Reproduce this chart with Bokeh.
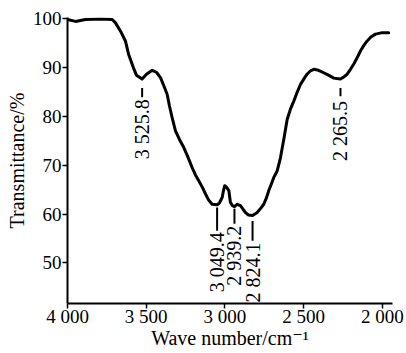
import numpy as np
from bokeh.plotting import figure
from bokeh.models import FixedTicker, Range1d
from bokeh.core.properties import value
from bokeh.embed import file_html
from bokeh.resources import INLINE

wavenumber = [4000, 3949, 3886, 3790, 3716, 3695, 3663, 3632, 3612, 3581,
              3562, 3526, 3498, 3462, 3435, 3409, 3390, 3367, 3352, 3335,
              3314, 3288, 3261, 3238, 3208, 3187, 3166, 3142, 3123, 3104,
              3081, 3049, 3034, 3017, 3009, 3001, 2990, 2975, 2965, 2952,
              2939, 2922, 2901, 2869, 2850, 2824, 2795, 2774, 2753, 2736,
              2721, 2704, 2689, 2668, 2647, 2625, 2604, 2583, 2562, 2541,
              2520, 2499, 2478, 2456, 2435, 2405, 2372, 2342, 2308, 2266,
              2246, 2223, 2202, 2181, 2159, 2138, 2117, 2096, 2072, 2043,
              2001, 1959]
transmittance = [99.8, 99.4, 99.8, 99.9, 99.8, 99.1, 97.4, 95.4, 92.7, 89.9,
                 88.4, 87.6, 88.6, 89.4, 89.0, 87.9, 86.4, 84.5, 82.1, 79.7,
                 77.0, 75.2, 73.6, 71.9, 69.5, 68.0, 66.8, 65.4, 64.1, 62.9,
                 62.0, 61.9, 62.3, 63.4, 64.8, 65.8, 65.5, 64.8, 62.4, 61.7,
                 61.5, 62.0, 61.7, 60.3, 59.8, 59.7, 60.3, 61.1, 62.0, 63.3,
                 64.8, 66.2, 67.5, 68.8, 71.5, 75.4, 79.4, 81.5, 83.1, 84.9,
                 86.5, 87.6, 88.6, 89.3, 89.6, 89.4, 88.9, 88.4, 87.8, 87.6,
                 88.0, 88.6, 89.6, 90.7, 92.0, 93.4, 94.5, 95.4, 96.2, 96.8,
                 97.1, 97.1]

peak_positions = [3525.8, 2265.5, 3049.4, 2939.2, 2824.1]
peak_labels = ["3 525.8", "2 265.5", "3 049.4", "2 939.2", "2 824.1"]
marker_top = [85.8, 85.8, 61.35, 61.1, 58.6]
marker_bottom = [83.9, 84.1, 56.6, 58.0, 54.55]
label_top = [83.5, 83.1, 56.25, 57.6, 54.2]

x_ticks = [4000, 3500, 3000, 2500, 2000]
x_tick_labels = ["4 000", "3 500", "3 000", "2 500", "2 000"]
y_ticks = [50, 60, 70, 80, 90, 100]
x_title = "Wave number/cm\u207b\u00b9"
y_title = "Transmittance/%"

FONT = "'Liberation Serif', 'DejaVu Serif', serif"

p = figure(width=406, height=353, x_range=Range1d(4000, 1935),
           y_range=Range1d(41.7, 100.2), output_backend="svg",
           toolbar_location=None, min_border_left=67, min_border_right=14,
           min_border_top=17, min_border_bottom=50)
p.outline_line_color = None
p.xgrid.visible = False
p.ygrid.visible = False
p.background_fill_color = "white"
p.border_fill_color = "white"

p.line(wavenumber, transmittance, line_width=3, color="black",
       line_join="round", line_cap="round")
p.segment(x0=peak_positions, y0=marker_top, x1=peak_positions,
          y1=marker_bottom, line_width=2, color="black")
p.text(x=peak_positions, y=label_top, text=peak_labels, angle=np.pi / 2,
       text_align="right", text_baseline="middle",
       text_font=value(FONT), text_font_size="20px", text_color="black")

for ax in (p.xaxis[0], p.yaxis[0]):
    ax.axis_line_width = 2
    ax.axis_line_color = "black"
    ax.major_tick_line_color = "black"
    ax.major_tick_line_width = 1.5
    ax.major_tick_in = 0
    ax.major_tick_out = 5
    ax.minor_tick_line_color = None
    ax.major_label_text_font = FONT
    ax.major_label_text_font_size = "19px"
    ax.major_label_text_color = "black"
    ax.axis_label_text_font = FONT
    ax.axis_label_text_font_size = "20px"
    ax.axis_label_text_font_style = "normal"
    ax.axis_label_text_color = "black"

p.xaxis.ticker = FixedTicker(ticks=x_ticks)
p.xaxis.major_label_overrides = dict(zip(x_ticks, x_tick_labels))
p.xaxis.major_label_standoff = -3
p.xaxis.axis_label = x_title
p.xaxis.axis_label_standoff = -3
p.yaxis.ticker = FixedTicker(ticks=y_ticks)
p.yaxis.major_label_standoff = 1
p.yaxis.axis_label = y_title
p.yaxis.axis_label_standoff = 2

open("out.html", "w").write(file_html(p, INLINE))
